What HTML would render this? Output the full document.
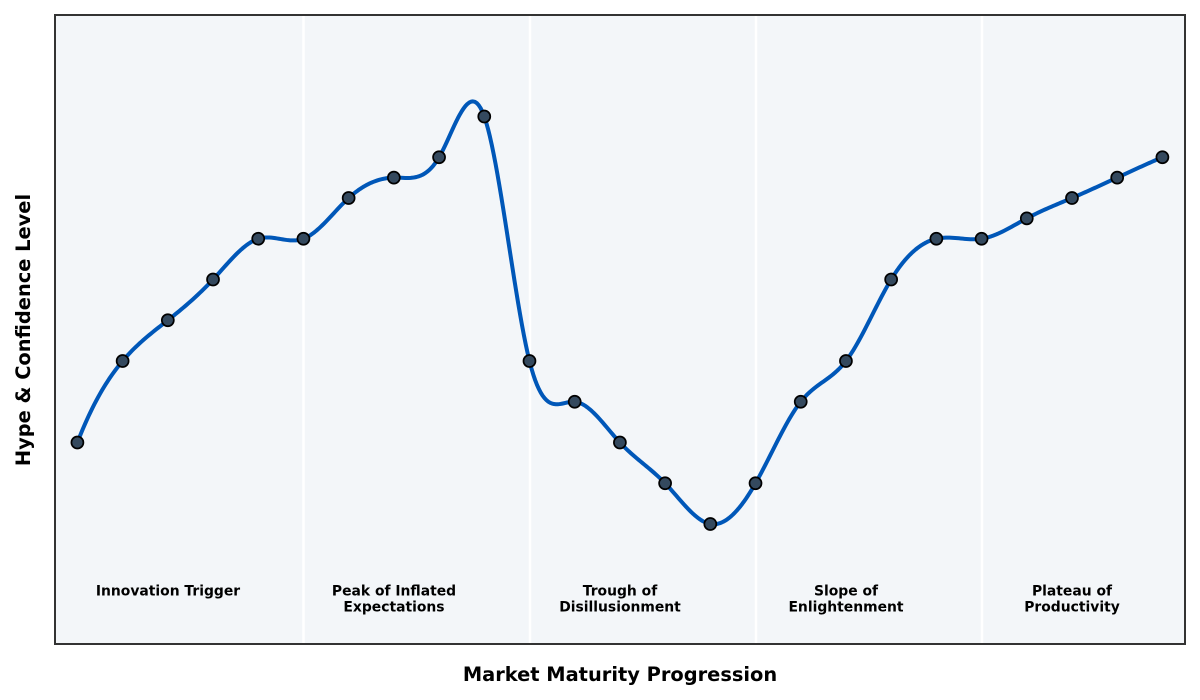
<!DOCTYPE html>
<html><head><meta charset="utf-8">
<style>
html,body{margin:0;padding:0;background:#fff;}
svg{display:block;}
text{font-family:"DejaVu Sans","Liberation Sans",sans-serif;font-weight:bold;fill:#000;}
</style></head>
<body>
<svg id="s" width="1200" height="700" viewBox="0 0 1200 700" xmlns="http://www.w3.org/2000/svg">
<rect x="0" y="0" width="1200" height="700" fill="#fff"/>
<rect x="55" y="15" width="1130" height="629" fill="#f3f6f9"/>
<g stroke="#ffffff" stroke-width="2.5">
<line x1="303.5" y1="15" x2="303.5" y2="644"/>
<line x1="530" y1="15" x2="530" y2="644"/>
<line x1="756" y1="15" x2="756" y2="644"/>
<line x1="982" y1="15" x2="982" y2="644"/>
</g>
<g font-size="13.9" text-anchor="middle">
<text x="168" y="595.5">Innovation Trigger</text>
<text x="394" y="595.5">Peak of Inflated</text>
<text x="394" y="611.5">Expectations</text>
<text x="620" y="595.5">Trough of</text>
<text x="620" y="611.5">Disillusionment</text>
<text x="846" y="595.5">Slope of</text>
<text x="846" y="611.5">Enlightenment</text>
<text x="1072" y="595.5">Plateau of</text>
<text x="1072" y="611.5">Productivity</text>
</g>
<path id="curve" d="" fill="none" stroke="#0057b8" stroke-width="4" stroke-linejoin="round" stroke-linecap="round"/>
<g id="marks" fill="#34495e" stroke="#000" stroke-width="1.7"></g>
<rect x="55" y="15" width="1130" height="629" fill="none" stroke="#333" stroke-width="2"/>
<text x="620" y="681" font-size="19.4" text-anchor="middle">Market Maturity Progression</text>
<text transform="translate(30,330) rotate(-90)" font-size="19.4" text-anchor="middle">Hype &amp; Confidence Level</text>
</svg>
<script>
(function(){
var v=[2,4,5,6,7,7,8,8.5,9,10,4,3,2,1,0,1,3,4,6,7,7,7.5,8,8.5,9];
var n=v.length;
function px(i){return 77.4+i*(1085/24);}
function py(val){return 524-val*40.75;}
var h=1;
var A=[],b=[];
for(var i=0;i<n;i++){A.push(new Array(n).fill(0));b.push(0);}
A[0][0]=1;A[0][1]=-2;A[0][2]=1;b[0]=0;
for(var i=1;i<n-1;i++){A[i][i-1]=1;A[i][i]=4;A[i][i+1]=1;b[i]=6*(v[i-1]-2*v[i]+v[i+1])/(h*h);}
A[n-1][n-3]=1;A[n-1][n-2]=-2;A[n-1][n-1]=1;b[n-1]=0;
for(var k=0;k<n;k++){
  var p=k,mx=Math.abs(A[k][k]);
  for(var r=k+1;r<n;r++){if(Math.abs(A[r][k])>mx){mx=Math.abs(A[r][k]);p=r;}}
  var t=A[k];A[k]=A[p];A[p]=t;var tb=b[k];b[k]=b[p];b[p]=tb;
  for(var r=k+1;r<n;r++){
    var f=A[r][k]/A[k][k];
    if(f!==0){for(var c=k;c<n;c++)A[r][c]-=f*A[k][c];b[r]-=f*b[k];}
  }
}
var M=new Array(n).fill(0);
for(var k=n-1;k>=0;k--){var s=b[k];for(var c=k+1;c<n;c++)s-=A[k][c]*M[c];M[k]=s/A[k][k];}
var d="";
for(var i=0;i<n-1;i++){
  var steps=24;
  for(var j=(i===0?0:1);j<=steps;j++){
    var x=j/steps;
    var a=1-x;
    var y=M[i]*a*a*a/6+M[i+1]*x*x*x/6+(v[i]-M[i]/6)*a+(v[i+1]-M[i+1]/6)*x;
    var X=px(i+x),Y=py(y);
    d+=(d===""?"M":"L")+X.toFixed(2)+","+Y.toFixed(2);
  }
}
document.getElementById("curve").setAttribute("d",d);
var g=document.getElementById("marks");
for(var i=0;i<n;i++){
  var c=document.createElementNS("http://www.w3.org/2000/svg","circle");
  c.setAttribute("cx",px(i).toFixed(2));c.setAttribute("cy",py(v[i]).toFixed(2));c.setAttribute("r","6");
  g.appendChild(c);
}
})();
</script>
</body></html>
